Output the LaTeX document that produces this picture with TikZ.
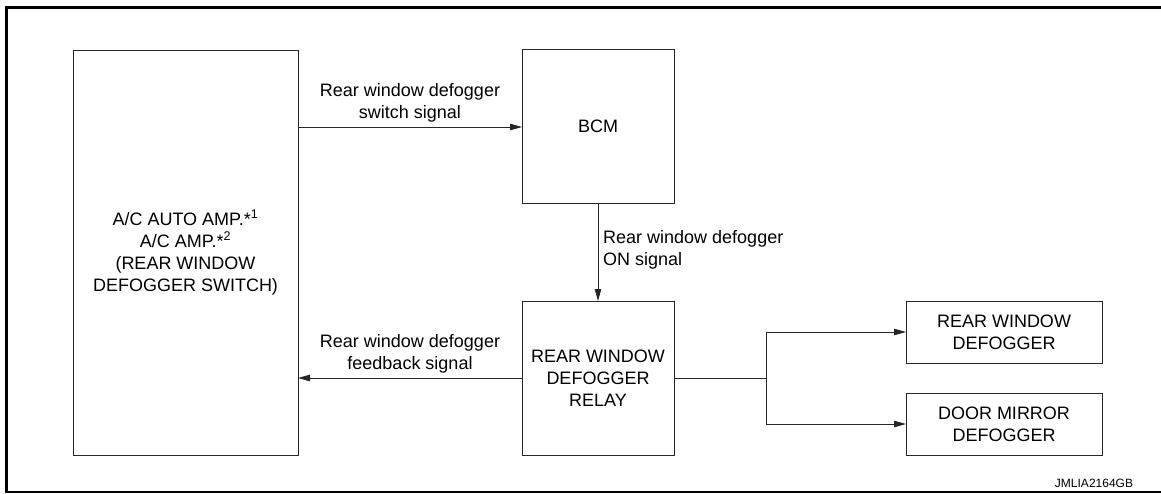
\documentclass[tikz,border=0pt]{standalone}
\usepackage{fontspec}
\setmainfont{Liberation Sans}
\usetikzlibrary{arrows.meta}
\begin{document}
\begin{tikzpicture}[x=1pt,y=-1pt,
  blk/.style={draw=black!85,line width=0.9pt,inner sep=0pt,outer sep=0pt,align=center,font=\fontsize{18}{22}\selectfont},
  lbl/.style={inner sep=0pt,align=center,font=\fontsize{18}{21.5}\selectfont},
  conn/.style={draw=black!85,line width=0.9pt},
  arr/.style={conn,-{Triangle[length=12pt,width=6.5pt]}}]
\useasboundingbox (0,0) rectangle (1161,494);
% frame
\draw[line width=3pt] (6.5,492) -- (6.5,7.5) -- (1170,7.5);
\draw[line width=1.6pt] (5,492) -- (1170,492);
% blocks
\node[blk,minimum width=225pt,minimum height=405pt] (amp) at (185.5,252.5)
  {A/C AUTO AMP.{*}\textsuperscript{1}\\A/C AMP.{*}\textsuperscript{2}\\(REAR WINDOW\\DEFOGGER SWITCH)};
\node[blk,minimum width=152pt,minimum height=154pt] (bcm) at (598,126) {BCM};
\node[blk,minimum width=152pt,minimum height=154pt] (relay) at (598,378) {REAR WINDOW\\DEFOGGER\\RELAY};
\node[blk,minimum width=196pt,minimum height=62pt] (rwd) at (1004,332) {REAR WINDOW\\DEFOGGER};
\node[blk,minimum width=196pt,minimum height=62pt] (dmd) at (1004,424) {DOOR MIRROR\\DEFOGGER};
% labels
\node[lbl] (l1) at (410,103) {Rear window defogger\\switch signal};
\node[lbl] (l2) at (410,354) {Rear window defogger\\feedback signal};
\node[lbl,anchor=west,align=left] (l3) at (603,250) {Rear window defogger\\ON signal};
\node[inner sep=0pt,font=\fontsize{12}{14}\selectfont] (code) at (1094,483) {JMLIA2164GB};
% connectors
\coordinate (sw) at (298,127);
\coordinate (bw) at (522,127);
\draw[arr] (sw) -- (bw);
\draw[arr] (relay.west) -- (amp.east |- relay.west);
\draw[arr] (bcm.south) -- (relay.north);
\coordinate (j) at (766,378);
\draw[conn] (relay.east) -- (j);
\draw[arr] (j) |- (rwd.west);
\draw[arr] (j) |- (dmd.west);
\end{tikzpicture}
\end{document}
